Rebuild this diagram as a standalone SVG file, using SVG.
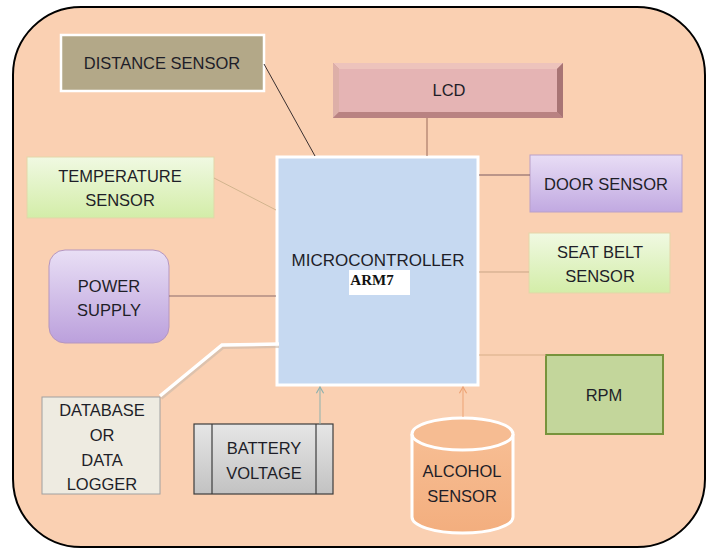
<svg xmlns="http://www.w3.org/2000/svg" width="713" height="550" viewBox="0 0 713 550">
<defs>
<linearGradient id="gGreen" x1="0" y1="0" x2="0" y2="1"><stop offset="0" stop-color="#F0F9E2"/><stop offset="1" stop-color="#D3EDA8"/></linearGradient>
<linearGradient id="gPurple" x1="0" y1="0" x2="0" y2="1"><stop offset="0" stop-color="#E8DDF5"/><stop offset="1" stop-color="#C1A9E1"/></linearGradient>
<linearGradient id="gPower" x1="0" y1="0" x2="0" y2="1"><stop offset="0" stop-color="#E9DFF5"/><stop offset="1" stop-color="#BBA0DC"/></linearGradient>
<linearGradient id="gGray" x1="0" y1="0" x2="0" y2="1"><stop offset="0" stop-color="#E6E6E6"/><stop offset="1" stop-color="#C2C2C2"/></linearGradient>
<linearGradient id="gAlc" x1="0" y1="0" x2="0" y2="1"><stop offset="0" stop-color="#F7BE94"/><stop offset="1" stop-color="#F3AE7E"/></linearGradient>
<marker id="arrT" viewBox="0 0 10 10" refX="9" refY="5" markerWidth="9" markerHeight="9" orient="auto" markerUnits="userSpaceOnUse">
<path d="M2,1 L9,5 L2,9" fill="none" stroke="#8DB1AE" stroke-width="1.3"/></marker>
<marker id="arrO" viewBox="0 0 10 10" refX="9" refY="5" markerWidth="9" markerHeight="9" orient="auto" markerUnits="userSpaceOnUse">
<path d="M2,1 L9,5 L2,9" fill="none" stroke="#EDA374" stroke-width="1.3"/></marker>
</defs>
<style>
text{font-family:"Liberation Sans",Arial,sans-serif;font-size:16.5px;fill:#1E1E28;text-anchor:middle;}
.arm{font-family:"Liberation Serif","Times New Roman",serif;font-weight:bold;font-size:15px;fill:#111;}
.ln{fill:none;stroke-width:1;}
</style>
<rect x="13" y="7" width="692" height="540" rx="68" ry="68" fill="#FAD0B2" stroke="#000" stroke-width="2"/>

<g id="micro">
<rect x="277" y="157" width="201" height="228" fill="#C6D9F1" stroke="#FFFFFF" stroke-width="3"/>
<text x="378" y="266" style="font-size:17px">MICROCONTROLLER</text>
<rect x="349" y="270" width="61" height="25" fill="#FFFFFF"/>
<text class="arm" x="372" y="285">ARM7</text>
</g>

<g id="distance">
<rect x="61" y="35" width="203" height="56" fill="#B3A888" stroke="#FFFFFF" stroke-width="2.5"/>
<text x="162" y="69">DISTANCE SENSOR</text>
</g>

<g id="lcd">
<rect x="333" y="63" width="230" height="55" fill="#C79393"/>
<polygon points="333,63 563,63 557,69 339,69" fill="#EDC3BC"/>
<polygon points="333,63 339,69 339,112 333,118" fill="#DDAFA8"/>
<polygon points="563,63 563,118 557,112 557,69" fill="#A87474"/>
<polygon points="333,118 563,118 557,112 339,112" fill="#B98282"/>
<rect x="339" y="69" width="218" height="43" fill="#E5B4B4"/>
<text x="449" y="96">LCD</text>
</g>

<g id="temperature">
<rect x="27" y="157" width="187" height="61" fill="url(#gGreen)" stroke="#E3D5A8" stroke-width="1"/>
<text x="120" y="182">TEMPERATURE</text>
<text x="120" y="206">SENSOR</text>
</g>

<g id="door">
<rect x="530" y="155" width="152" height="57" fill="url(#gPurple)" stroke="#B9A0C8" stroke-width="1"/>
<text x="606" y="190">DOOR SENSOR</text>
</g>

<g id="seatbelt">
<rect x="529" y="233" width="141" height="60" fill="url(#gGreen)" stroke="#E3D5A8" stroke-width="1"/>
<text x="600" y="258">SEAT BELT</text>
<text x="600" y="282">SENSOR</text>
</g>

<g id="power">
<rect x="49" y="250" width="120" height="93" rx="16" ry="16" fill="url(#gPower)" stroke="#B596BF" stroke-width="1"/>
<text x="109" y="292">POWER</text>
<text x="109" y="316">SUPPLY</text>
</g>

<g id="rpm">
<rect x="546" y="355" width="117" height="79" fill="#C3D69B" stroke="#77933C" stroke-width="2"/>
<text x="604" y="401">RPM</text>
</g>

<g id="database">
<rect x="42" y="397" width="118" height="97" fill="#EEEBE1" stroke="#A0A0A0" stroke-width="1"/>
<text x="102" y="416">DATABASE</text>
<text x="102" y="441">OR</text>
<text x="102" y="466">DATA</text>
<text x="102" y="490">LOGGER</text>
</g>

<g id="battery">
<rect x="194" y="424" width="139" height="70" fill="url(#gGray)" stroke="#3C3C3C" stroke-width="1.2"/>
<line x1="212" y1="424" x2="212" y2="494" stroke="#3C3C3C" stroke-width="1.2"/>
<line x1="316" y1="424" x2="316" y2="494" stroke="#3C3C3C" stroke-width="1.2"/>
<text x="264" y="454">BATTERY</text>
<text x="264" y="479">VOLTAGE</text>
</g>

<g id="alcohol">
<path d="M412,434 L412,517 A50.5,16 0 0 0 513,517 L513,434" fill="url(#gAlc)" stroke="#FFFFFF" stroke-width="3"/>
<ellipse cx="462.5" cy="434" rx="50.5" ry="16" fill="#F6BC92" stroke="#FFFFFF" stroke-width="3"/>
<text x="462" y="477">ALCOHOL</text>
<text x="462" y="502">SENSOR</text>
</g>

<g id="connectors">
<line class="ln" x1="264" y1="64" x2="315" y2="156" stroke="#3A3030"/>
<line class="ln" x1="427" y1="118" x2="427" y2="156" stroke="#9A6A5A"/>
<line class="ln" x1="479" y1="175" x2="530" y2="175" stroke="#7A5A60"/>
<line class="ln" x1="479" y1="272" x2="529" y2="272" stroke="#C9A585"/>
<line class="ln" x1="479" y1="355" x2="546" y2="355" stroke="#D8AE88"/>
<line class="ln" x1="214" y1="178" x2="276" y2="210" stroke="#D2B48E"/>
<line class="ln" x1="169" y1="296" x2="276" y2="296" stroke="#8B6B6B"/>
<polyline points="161,398 223,347 279,346" fill="none" stroke="#C9B9AA" stroke-width="4" opacity="0.6"/>
<polyline points="160,396 222,345 279,344" fill="none" stroke="#FFFFFF" stroke-width="3.5"/>
<line class="ln" x1="320" y1="424" x2="320" y2="387" stroke="#8DB1AE" stroke-width="1.3" marker-end="url(#arrT)"/>
<line class="ln" x1="463" y1="417" x2="463" y2="387" stroke="#EDA374" stroke-width="1.3" marker-end="url(#arrO)"/>
</g>
</svg>
